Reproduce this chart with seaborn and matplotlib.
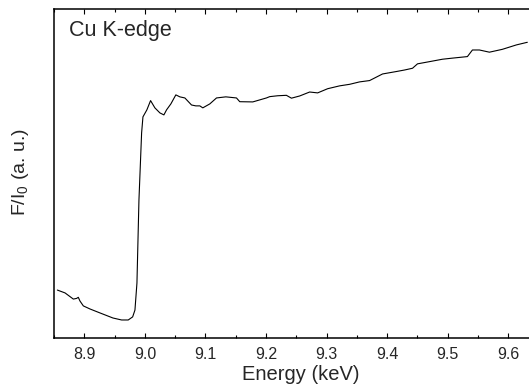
import numpy as np
import pandas as pd
import matplotlib
matplotlib.use('Agg')
import matplotlib.pyplot as plt
from matplotlib.ticker import MultipleLocator
import seaborn as sns

# ------------------------------------------------------------ #
# Cu K-edge XANES
# ------------------------------------------------------------ #

energy = [8.8555, 8.8682, 8.8819, 8.8872, 8.8901, 8.8929, 8.8984, 8.9094,
          8.9259, 8.9473, 8.9616, 8.9725, 8.9798, 8.9836, 8.9869, 8.9902,
          8.9946, 8.9968, 9.0033, 9.0094, 9.0165, 9.0248, 9.0314, 9.0358,
          9.0429, 9.0511, 9.0577, 9.0660, 9.0770, 9.0841, 9.0907, 9.0956,
          9.1072, 9.1182, 9.1336, 9.1512, 9.1566, 9.1781, 9.2006, 9.2061,
          9.2193, 9.2336, 9.2419, 9.2555, 9.2720, 9.2852, 9.3017, 9.3215,
          9.3380, 9.3544, 9.3709, 9.3923, 9.4149, 9.4286, 9.4418, 9.4500,
          9.4698, 9.4912, 9.5077, 9.5324, 9.5407, 9.5522, 9.5687, 9.5901,
          9.6132, 9.6313]

intensity = [0.136, 0.123, 0.095, 0.098, 0.103, 0.086, 0.064, 0.050,
             0.032, 0.009, 0.000, 0.000, 0.014, 0.045, 0.168, 0.545,
             0.850, 0.923, 0.955, 0.997, 0.964, 0.941, 0.932, 0.955,
             0.982, 1.023, 1.014, 1.009, 0.977, 0.973, 0.973, 0.964,
             0.982, 1.009, 1.014, 1.009, 0.992, 0.991, 1.009, 1.015,
             1.019, 1.021, 1.008, 1.018, 1.036, 1.032, 1.051, 1.064,
             1.071, 1.082, 1.088, 1.118, 1.129, 1.136, 1.144, 1.164,
             1.174, 1.185, 1.190, 1.197, 1.227, 1.227, 1.217, 1.230,
             1.250, 1.262]

df = pd.DataFrame({'Energy': energy, 'F/I0': intensity})

sns.set_style('ticks')
plt.rcParams['font.family'] = ['Liberation Sans', 'DejaVu Sans']

fig = plt.figure(figsize=(5.29, 3.86), dpi=100)
ax = fig.add_axes([0.1021, 0.1244, 0.9047, 0.851])

sns.lineplot(x='Energy', y='F/I0', data=df, ax=ax, color='black', linewidth=0.8)

ax.set_xlim(8.85, 9.64)
ax.set_ylim(-0.0818, 1.411)

ax.xaxis.set_major_locator(MultipleLocator(0.1))
ax.xaxis.set_minor_locator(MultipleLocator(0.05))
ax.tick_params(axis='x', which='both', direction='in', top=True, bottom=True,
               width=0.8, color='black', labelsize=11.5, pad=6.5)
ax.tick_params(axis='x', which='major', length=3.6)
ax.tick_params(axis='x', which='minor', length=2.2)
ax.set_yticks([])

for s in ax.spines.values():
    s.set_linewidth(1.1)
    s.set_color('black')

ax.set_xlabel('Energy (keV)', fontsize=14.5)
ax.xaxis.set_label_coords(0.516, -0.083)
ax.set_ylabel('F/I$_\\mathregular{0}$ (a. u.)', fontsize=14)
ax.yaxis.set_label_coords(-0.048, 0.505)

ax.text(0.031, 0.918, 'Cu K-edge', transform=ax.transAxes, fontsize=15.5,
        ha='left', va='baseline')

fig.savefig('out.png', dpi=100)
